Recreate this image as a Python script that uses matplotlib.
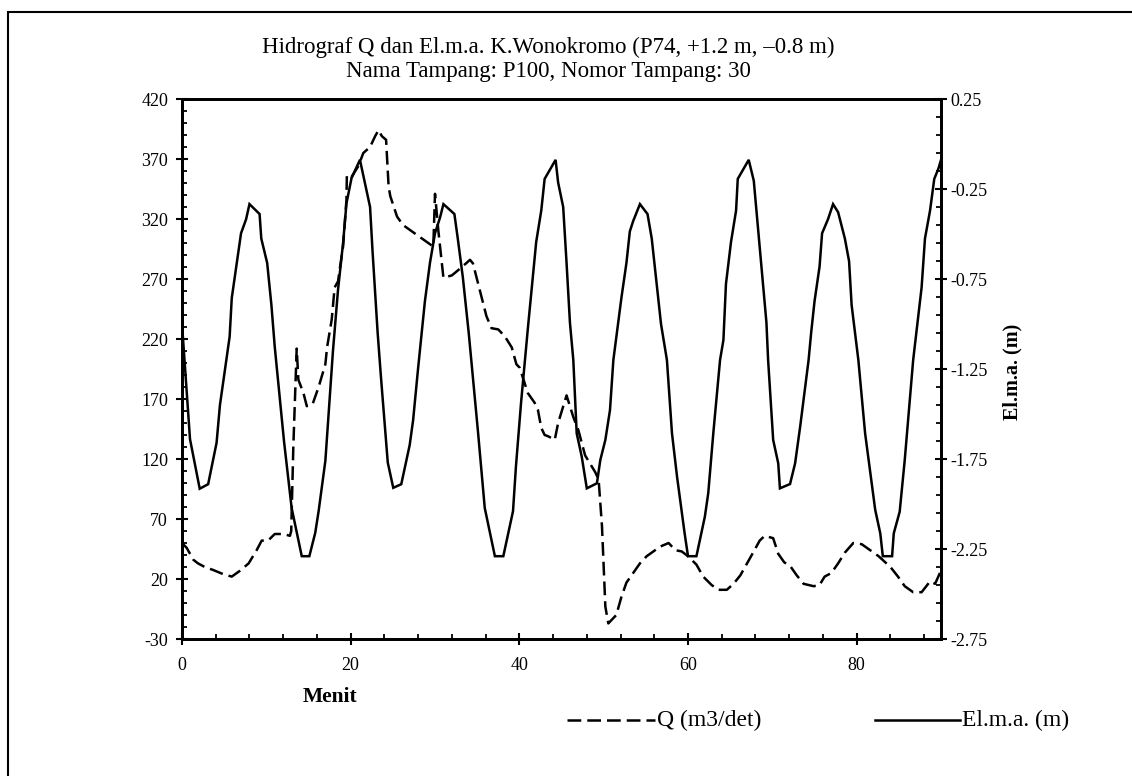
import matplotlib
matplotlib.use("Agg")
import matplotlib.pyplot as plt
from matplotlib.lines import Line2D
from matplotlib.patches import Rectangle
from matplotlib.ticker import FixedLocator, MultipleLocator, FixedFormatter

plt.rcParams['font.family'] = ['Liberation Serif', 'DejaVu Serif']
plt.rcParams['axes.unicode_minus'] = False

# ---------------- data ----------------
title_line1 = "Hidrograf Q dan El.m.a. K.Wonokromo (P74, +1.2 m, \u20130.8 m)"
title_line2 = "Nama Tampang: P100, Nomor Tampang: 30"
x_label = "Menit"
y2_label = "El.m.a. (m)"
q_name = "Q (m3/det)"
e_name = "El.m.a. (m)"

# water level El.m.a. (m)
t_elev = [0.0, 0.95, 2.1, 3.1, 4.1, 4.5, 5.65, 5.9, 7.0, 7.6, 8.0, 9.2, 9.4, 10.1,
          10.6, 11.0, 12.1, 13.0, 14.2, 15.1, 15.8, 16.2, 17.0, 17.9, 18.5, 19.1,
          19.5, 20.1, 21.1, 21.5, 22.3, 22.6, 23.2, 23.6, 24.4, 25.05, 26.0, 27.0,
          27.4, 28.0, 28.8, 29.4, 30.0, 30.6, 31.0, 32.3, 32.7, 33.3, 34.0, 34.5,
          35.1, 35.9, 37.1, 38.1, 38.7, 39.25, 39.6, 40.2, 41.0, 42.0, 42.6, 43.0,
          44.3, 44.6, 45.2, 45.6, 46.0, 46.4, 46.8, 47.4, 48.0, 49.2, 49.6, 50.2,
          50.75, 51.15, 52.1, 52.7, 53.1, 53.5, 54.3, 55.2, 55.7, 56.8, 57.5, 58.1,
          58.7, 59.6, 60.0, 61.0, 62.0, 62.4, 63.0, 63.8, 64.2, 64.5, 65.1, 65.7,
          65.9, 67.2, 67.8, 68.3, 69.3, 69.5, 70.1, 70.7, 70.9, 72.1, 72.7, 73.3,
          74.3, 74.6, 75.0, 75.6, 75.9, 76.6, 77.2, 77.8, 78.6, 79.1, 79.4, 80.2,
          81.0, 82.2, 82.8, 83.1, 84.2, 84.4, 85.1, 85.7, 86.7, 87.7, 88.1, 88.7,
          89.2, 89.7, 90.0]
elev = [-1.00, -1.64, -1.915, -1.89, -1.66, -1.45, -1.07, -0.856, -0.496, -0.418,
        -0.334, -0.389, -0.525, -0.661, -0.894, -1.128, -1.653, -2.022, -2.29,
        -2.29, -2.16, -2.04, -1.76, -1.15, -0.81, -0.55, -0.33, -0.19, -0.088,
        -0.175, -0.35, -0.60, -1.05, -1.30, -1.77, -1.91, -1.89, -1.672, -1.536,
        -1.244, -0.875, -0.661, -0.496, -0.408, -0.334, -0.389, -0.525, -0.74,
        -1.05, -1.30, -1.60, -2.022, -2.29, -2.29, -2.16, -2.04, -1.79, -1.44,
        -1.03, -0.544, -0.37, -0.194, -0.088, -0.214, -0.35, -0.661, -0.992, -1.2,
        -1.607, -1.737, -1.913, -1.885, -1.756, -1.644, -1.478, -1.2, -0.856,
        -0.661, -0.486, -0.428, -0.334, -0.389, -0.525, -1.0, -1.2, -1.607, -1.848,
        -2.163, -2.29, -2.29, -2.07, -1.94, -1.607, -1.2, -1.089, -0.778, -0.544,
        -0.37, -0.194, -0.088, -0.204, -0.467, -0.992, -1.2, -1.644, -1.774,
        -1.913, -1.889, -1.774, -1.57, -1.2, -1.05, -0.875, -0.681, -0.496,
        -0.418, -0.334, -0.379, -0.525, -0.651, -0.894, -1.2, -1.607, -2.033,
        -2.163, -2.29, -2.29, -2.163, -2.043, -1.756, -1.2, -0.797, -0.525,
        -0.37, -0.194, -0.136, -0.088]

# discharge Q (m3/det)
t_q = [0.0, 0.55, 1.35, 1.9, 2.7, 3.1, 3.7, 4.9, 5.9, 6.9, 7.9, 8.85, 9.45, 10.2,
       11.0, 12.0, 12.8, 12.95, 13.2, 13.6, 13.8, 14.4, 14.8, 15.5, 16.2, 17.0,
       17.2, 17.75, 18.1, 18.5, 18.7, 19.1, 19.3, 19.5, 19.55, 20.1, 20.9, 21.5,
       22.3, 22.9, 23.3, 23.7, 24.2, 24.5, 24.7, 25.5, 26.2, 27.4, 28.2, 29.2,
       29.8, 30.0, 30.4, 31.0, 32.0, 33.2, 34.15, 34.5, 35.3, 36.1, 36.7, 37.5,
       38.3, 39.1, 39.65, 40.05, 40.6, 41.0, 41.8, 42.2, 42.6, 43.0, 43.4, 44.2,
       44.6, 45.6, 46.4, 47.0, 47.8, 48.4, 49.0, 49.4, 49.8, 50.0, 50.2, 50.55,
       51.5, 52.1, 52.7, 53.5, 54.3, 55.1, 55.9, 56.7, 57.7, 58.5, 59.25, 60.0,
       61.0, 61.8, 62.8, 63.6, 64.6, 65.4, 66.2, 67.0, 67.8, 68.5, 69.1, 70.1,
       70.7, 71.4, 72.2, 72.9, 73.7, 74.9, 75.6, 76.2, 77.0, 77.8, 78.6, 79.6,
       80.6, 81.6, 82.6, 84.0, 84.9, 85.7, 86.7, 87.7, 88.7, 89.3, 90.0]
discharge = [50, 46, 36, 33, 30, 29, 27.5, 24, 22, 27, 33, 44, 52, 52, 57.5, 57.5,
             56, 60, 130, 212, 186, 175, 164, 166, 180, 199, 213, 236, 263, 268,
             278, 297, 316, 336, 357, 355, 364, 375, 380, 389, 394, 389, 386, 347,
             339, 322, 315, 309, 305, 300, 297, 341, 310, 271, 273, 280, 286, 283,
             261, 239, 229, 228, 222, 213, 199, 196, 184, 175, 167, 161, 146, 140,
             139, 136, 150, 173, 155, 144, 123, 116, 109, 103, 64, 30, -3, -17, -10,
             5, 17, 25, 33, 39, 43, 47, 50, 44, 43, 39, 32, 22, 15, 11, 11, 16, 23,
             33, 43, 52, 56, 54, 41, 34, 30, 23, 16, 14, 15, 22, 25, 33, 42, 50, 49,
             44, 39, 30, 22, 14, 9, 9, 18, 16, 27]

q_ticks = [-30, 20, 70, 120, 170, 220, 270, 320, 370, 420]
e_ticks = [-2.75, -2.25, -1.75, -1.25, -0.75, -0.25, 0.25]
e_tick_labels = ["-2.75", "-2.25", "-1.75", "-1.25", "-0.75", "-0.25", "0.25"]
x_ticks = [0, 20, 40, 60, 80]

# ---------------- figure ----------------
W, H = 1132, 776
fig = plt.figure(figsize=(W / 100, H / 100), dpi=100)
ax = fig.add_axes([182 / W, 1 - 639 / H, (941 - 182) / W, 540 / H])
ax2 = ax.twinx()

LW = 1.8
DASH = (5.5, 2.4)
ax.plot(t_q, discharge, color='black', lw=LW, dashes=DASH)
ax2.plot(t_elev, elev, color='black', lw=LW, solid_joinstyle='miter')

ax.set_xlim(0, 90)
ax.set_ylim(-30, 420)
ax2.set_ylim(-2.75, 0.25)

ax.xaxis.set_major_locator(FixedLocator(x_ticks))
ax.xaxis.set_minor_locator(MultipleLocator(4))
ax.yaxis.set_major_locator(FixedLocator(q_ticks))
ax.yaxis.set_minor_locator(MultipleLocator(10))
ax2.yaxis.set_major_locator(FixedLocator(e_ticks))
ax2.yaxis.set_major_formatter(FixedFormatter(e_tick_labels))
ax2.yaxis.set_minor_locator(FixedLocator([-2.75 + 0.1 * i for i in range(31)]))

for a in (ax, ax2):
    for s in a.spines.values():
        s.set_linewidth(2.0)

lab = 13
ax.tick_params(axis='x', which='major', direction='inout', length=8, width=1.5,
               labelsize=lab, pad=9, top=False, bottom=True)
ax.tick_params(axis='x', which='minor', direction='in', length=3.5, width=1.3,
               top=False, bottom=True)
ax.tick_params(axis='y', which='major', direction='inout', length=8, width=1.5,
               labelsize=lab, pad=6, left=True, right=False)
ax.tick_params(axis='y', which='minor', direction='in', length=3.5, width=1.3,
               left=True, right=False)
ax2.tick_params(axis='y', which='major', direction='inout', length=8, width=1.5,
                labelsize=lab, pad=3, right=True, left=False)
ax2.tick_params(axis='y', which='minor', direction='in', length=3.5, width=1.3,
                right=True, left=False)

# titles and labels
fig.text(548 / W, 1 - 47 / H, title_line1, ha='center', va='center', fontsize=16.5)
fig.text(548 / W, 1 - 72 / H, title_line2, ha='center', va='center', fontsize=16.5)
fig.text(330 / W, 1 - 697 / H, x_label, ha='center', va='center', fontsize=15.5,
         fontweight='bold')
fig.text(1012 / W, 1 - 372 / H, y2_label, ha='center', va='center', fontsize=14.5,
         fontweight='bold', rotation=90)

# legend
ly = 1 - 720 / H
fig.add_artist(Line2D([567 / W, 655 / W], [ly, ly], transform=fig.transFigure,
                      color='black', lw=LW, dashes=DASH))
fig.text(657 / W, ly, q_name, ha='left', va='center', fontsize=17)
fig.add_artist(Line2D([875 / W, 960 / W], [ly, ly], transform=fig.transFigure,
                      color='black', lw=LW))
fig.text(962 / W, ly, e_name, ha='left', va='center', fontsize=17)

# outer frame (left and top edges visible)
fig.add_artist(Rectangle((8 / W, -0.2), 1.5, 1.2 - 12 / H, transform=fig.transFigure,
                         fill=False, ec='black', lw=1.5))

fig.savefig("out.png", dpi=100)
